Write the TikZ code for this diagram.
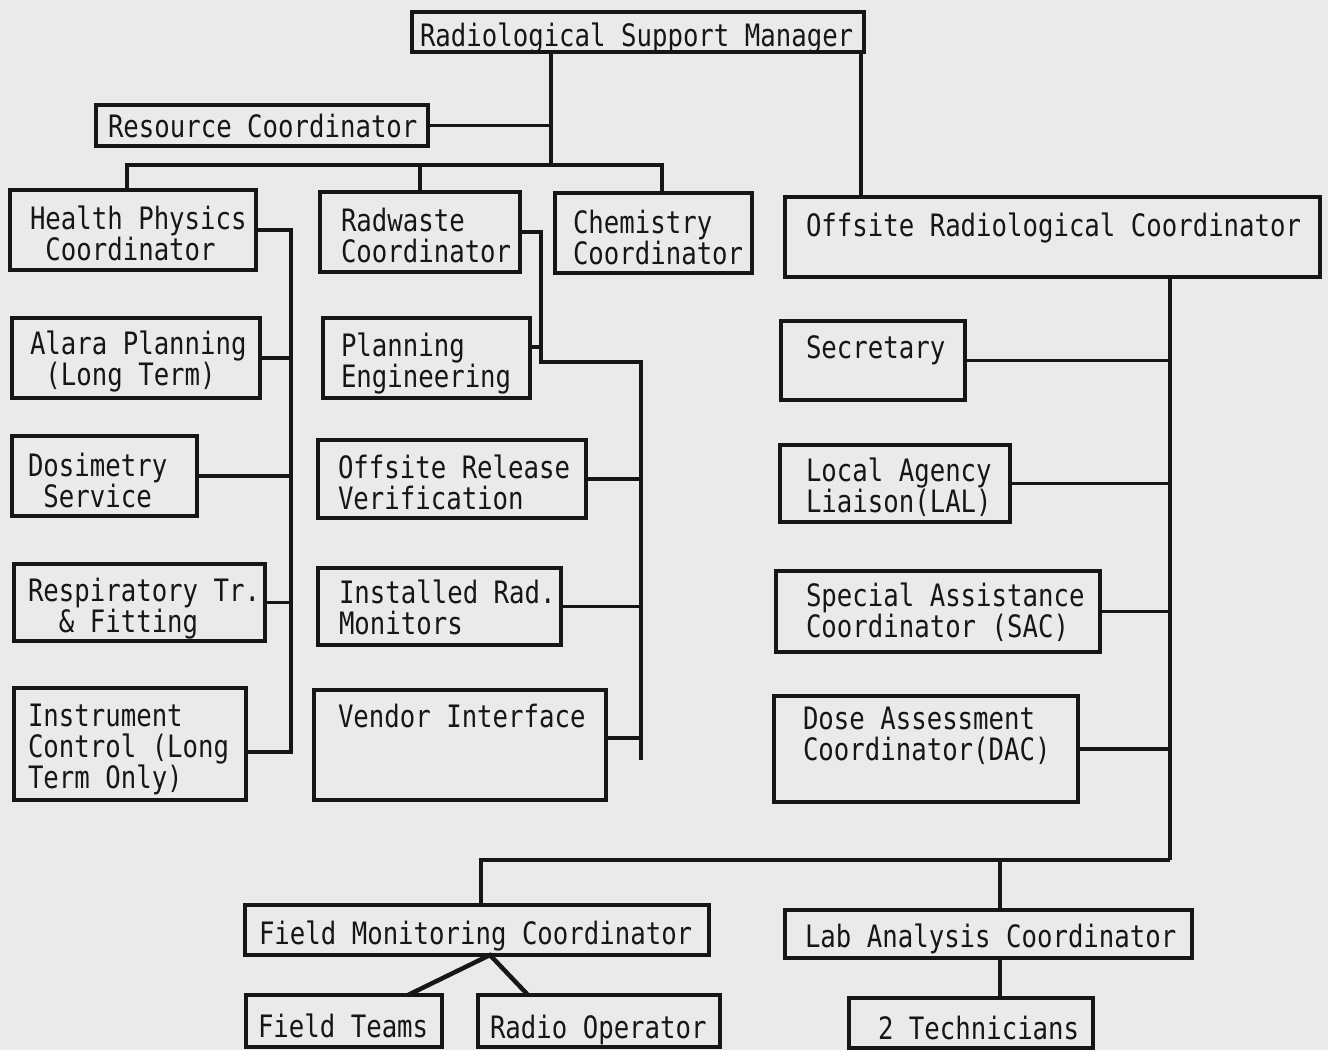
\documentclass[tikz,border=0pt]{standalone}
\usepackage{fontspec}
\usepackage{graphicx}
\newfontfamily\tw{DejaVu Sans Mono}
\definecolor{bg}{RGB}{234,234,234}
\definecolor{ink}{RGB}{22,22,22}
\newcommand\tlx[1]{\rule[-8pt]{0pt}{31pt}\scalebox{1}[1.2]{#1}}
\setlength{\lineskiplimit}{-20pt}
\begin{document}
\begin{tikzpicture}[x=1pt,y=-1pt,
  box/.style={draw=ink,line width=4.5pt,rectangle,inner sep=0pt,outer sep=0pt,anchor=north west},
  lbl/.style={inner sep=0pt,outer sep=0pt,anchor=north west,align=left,text=ink,
    font=\tw\fontsize{25.7}{31}\selectfont},
  conn/.style={draw=ink,line width=3.2pt},
  thick conn/.style={draw=ink,line width=4.5pt}]
\fill[bg] (0,0) rectangle (1328,1050);
\useasboundingbox (0,0) rectangle (1328,1050);

% boxes
\node[box,minimum width=452pt,minimum height=40pt] (rsm) at (412,12) {};
\node[lbl] (rsmT) at (420,23) {\tlx{Radiological Support Manager}};
\node[box,minimum width=332pt,minimum height=41pt] (rc) at (96,105) {};
\node[lbl] (rcT) at (108,114) {\tlx{Resource Coordinator}};
\node[box,minimum width=246pt,minimum height=80pt] (hp) at (10,190) {};
\node[lbl] (hpT) at (30,206) {\tlx{Health Physics}\\\tlx{~Coordinator}};
\node[box,minimum width=200pt,minimum height=80pt] (rw) at (320,192) {};
\node[lbl] (rwT) at (341,208) {\tlx{Radwaste}\\\tlx{Coordinator}};
\node[box,minimum width=197pt,minimum height=80pt] (ch) at (555,193) {};
\node[lbl] (chT) at (573,210) {\tlx{Chemistry}\\\tlx{Coordinator}};
\node[box,minimum width=535pt,minimum height=80pt] (orc) at (785,197) {};
\node[lbl] (orcT) at (806,213) {\tlx{Offsite Radiological Coordinator}};

\node[box,minimum width=248pt,minimum height=80pt] (al) at (12,318) {};
\node[lbl] (alT) at (30,331) {\tlx{Alara Planning}\\\tlx{~(Long Term)}};
\node[box,minimum width=185pt,minimum height=80pt] (ds) at (12,436) {};
\node[lbl] (dsT) at (28,453) {\tlx{Dosimetry}\\\tlx{~Service}};
\node[box,minimum width=251pt,minimum height=77pt] (rf) at (14,564) {};
\node[lbl] (rfT) at (28,578) {\tlx{Respiratory Tr.}\\\tlx{~~\& Fitting}};
\node[box,minimum width=232pt,minimum height=112pt] (ic) at (14,688) {};
\node[lbl] (icT) at (28,703) {\tlx{Instrument}\\\tlx{Control (Long}\\\tlx{Term Only)}};

\node[box,minimum width=207pt,minimum height=80pt] (pe) at (323,318) {};
\node[lbl] (peT) at (341,333) {\tlx{Planning}\\\tlx{Engineering}};
\node[box,minimum width=268pt,minimum height=78pt] (orv) at (318,440) {};
\node[lbl] (orvT) at (338,455) {\tlx{Offsite Release}\\\tlx{Verification}};
\node[box,minimum width=243pt,minimum height=77pt] (ir) at (318,568) {};
\node[lbl] (irT) at (339,580) {\tlx{Installed Rad.}\\\tlx{Monitors}};
\node[box,minimum width=292pt,minimum height=110pt] (vi) at (314,690) {};
\node[lbl] (viT) at (338,704) {\tlx{Vendor Interface}};

\node[box,minimum width=184pt,minimum height=79pt] (sec) at (781,321) {};
\node[lbl] (secT) at (806,335) {\tlx{Secretary}};
\node[box,minimum width=230pt,minimum height=77pt] (lal) at (780,445) {};
\node[lbl] (lalT) at (806,458) {\tlx{Local Agency}\\\tlx{Liaison(LAL)}};
\node[box,minimum width=324pt,minimum height=81pt] (sac) at (776,571) {};
\node[lbl] (sacT) at (806,583) {\tlx{Special Assistance}\\\tlx{Coordinator (SAC)}};
\node[box,minimum width=304pt,minimum height=106pt] (dac) at (774,696) {};
\node[lbl] (dacT) at (803,706) {\tlx{Dose Assessment}\\\tlx{Coordinator(DAC)}};

\node[box,minimum width=464pt,minimum height=50pt] (fmc) at (245,905) {};
\node[lbl] (fmcT) at (259,921) {\tlx{Field Monitoring Coordinator}};
\node[box,minimum width=407pt,minimum height=48pt] (lac) at (785,910) {};
\node[lbl] (lacT) at (805,924) {\tlx{Lab Analysis Coordinator}};
\node[box,minimum width=196pt,minimum height=52pt] (ft) at (246,995) {};
\node[lbl] (ftT) at (258,1014) {\tlx{Field Teams}};
\node[box,minimum width=242pt,minimum height=52pt] (ro) at (478,995) {};
\node[lbl] (roT) at (490,1015) {\tlx{Radio Operator}};
\node[box,minimum width=244pt,minimum height=50pt] (tech) at (849,998) {};
\node[lbl] (techT) at (878,1016) {\tlx{2 Technicians}};

% connectors: top
\coordinate (j1) at (551,165);
\coordinate (bl) at (127,165);
\coordinate (br) at (662,165);
\coordinate (rsmr) at (861,0);
\draw[conn] (rsm.south -| j1) -- (j1);
\draw[conn] (rc.east) -- (rc.east -| j1);
\draw[thick conn] (hp.north -| bl) -- (bl) -- (br) -- (br |- ch.north);
\draw[conn] (rw.north) -- (rw.north |- j1);
\draw[conn] (rsm.south -| rsmr) -- (orc.north -| rsmr);

% health physics group
\coordinate (hx) at (291,0);
\draw[conn] (hp.east) -- (hp.east -| hx) -- ([yshift=-8pt]ic.east -| hx) -- ([yshift=-8pt]ic.east);
\foreach \n in {al,ds,rf} \draw[conn] (\n.east) -- (\n.east -| hx);

% radwaste group
\coordinate (rx1) at (541,0);
\coordinate (rbend) at (541,362);
\coordinate (rend) at (641,760);
\draw[conn] (rw.east) -- (rw.east -| rx1) -- (rbend) -- (rbend -| rend) -- (rend);
\draw[conn] ([yshift=11pt]pe.east) -- ([yshift=11pt]pe.east -| rx1);
\foreach \n in {orv,ir} \draw[conn] (\n.east) -- (\n.east -| rend);
\draw[conn] ([yshift=7pt]vi.east) -- ([yshift=7pt]vi.east -| rend);

% offsite group
\coordinate (ox) at (1170,860);
\coordinate (fx) at (481,0);
\draw[conn] (orc.south -| ox) -- (ox);
\draw[thick conn] (ox) -- (ox -| fx) -- (fmc.north -| fx);
\foreach \n in {sec,lal,sac,dac} \draw[conn] (\n.east) -- (\n.east -| ox);
\coordinate (lx) at (1000,860);
\draw[conn] (lx) -- (lx |- lac.north);
\draw[conn] (lac.south -| lx) -- (tech.north -| lx);
\draw[thick conn] ([xshift=64pt]ft.north) -- ([xshift=13pt]fmc.south) -- ([xshift=-71pt]ro.north);
\end{tikzpicture}
\end{document}
